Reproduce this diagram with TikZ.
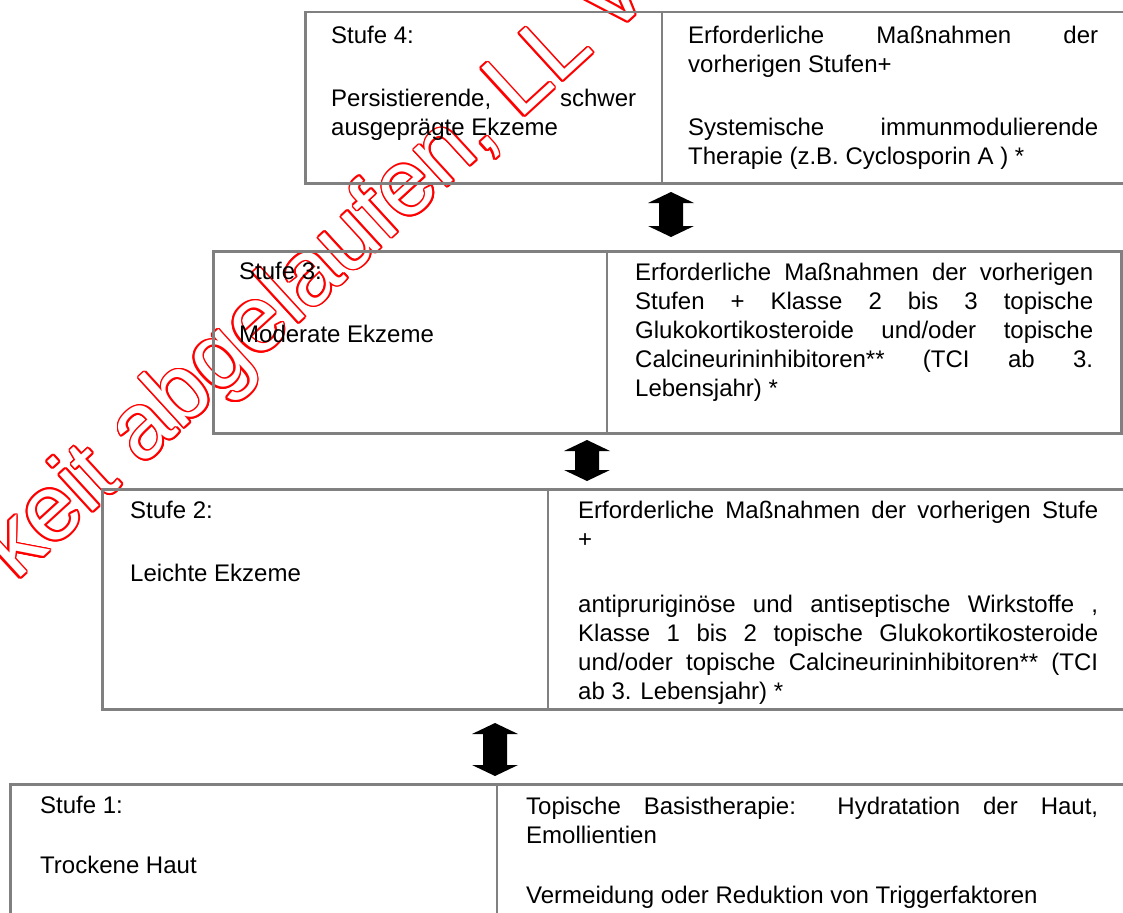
\documentclass[tikz,border=0pt]{standalone}
\usepackage{fontspec}
\setmainfont{Liberation Sans}
\usetikzlibrary{calc}
\definecolor{boxgray}{RGB}{128,128,128}
\definecolor{wmred}{RGB}{255,0,0}
\newcommand\jl[2]{\makebox[#1pt][s]{#2}}
\newcommand\darrow[2]{%
  \fill[black] (#1) -- ($(#1)+(23,11)$) -- ($(#1)+(12,11)$) -- ($(#2)+(12,-11)$) -- ($(#2)+(23,-11)$) -- (#2)
    -- ($(#2)+(-23,-11)$) -- ($(#2)+(-12,-11)$) -- ($(#1)+(-12,11)$) -- ($(#1)+(-23,11)$) -- cycle;}
\begin{document}
\begin{tikzpicture}[x=1pt,y=-1pt,
  box/.style={draw=boxgray, line width=2.5pt, inner sep=0pt, anchor=north west},
  divider/.style={draw=boxgray, line width=2pt},
  txt/.style={anchor=north west, inner sep=0pt, align=left, font=\fontsize{24}{29}\selectfont, text=black, yshift=20.3pt},
  wm/.style={anchor=base west, inner sep=0pt, rotate=42.5, font=\fontsize{93}{93}\selectfont}]
\useasboundingbox (0,0) rectangle (1123,912);
\clip (0,0) rectangle (1123,912);
\fill[white] (0,0) rectangle (1123,912);

% watermark (outlined red text)
\coordinate (wmo) at (16,582);
\foreach \a [count=\i] in {0,22.5,...,337.5}
  \node[wm, text=wmred] (wmr\i) at ($(wmo)+(\a:1.7)$) {keit abgelaufen, LL v};
\node[wm, text=white] (wm) at (wmo) {keit abgelaufen, LL v};

% boxes
\node[box, minimum width=822, minimum height=171] (s4) at (304,11) {};
\draw[divider] (662,11) -- (662,182);
\node[box, minimum width=908, minimum height=182] (s3) at (212,250) {};
\draw[divider] (607,250) -- (607,432);
\node[box, minimum width=1025, minimum height=220] (s2) at (101,488) {};
\draw[divider] (548,488) -- (548,708);
\node[box, minimum width=1117, minimum height=140] (s1) at (9,783) {};
\draw[divider] (497,783) -- (497,923);

% arrows
\coordinate (a1t) at (671,192); \coordinate (a1b) at (671,237);
\coordinate (a2t) at (587,440); \coordinate (a2b) at (587,481);
\coordinate (a3t) at (495,723); \coordinate (a3b) at (495,776);
\darrow{a1t}{a1b}
\darrow{a2t}{a2b}
\darrow{a3t}{a3b}

% Stufe 4
\node[txt] (t4l) at (331,43) {\strut Stufe 4:\\[34pt]\jl{305}{Persistierende, schwer}\\ausgeprägte Ekzeme};
\node[txt] (t4r) at (688,43) {\strut\jl{410}{Erforderliche Maßnahmen der}\\vorherigen Stufen+\\[34pt]\jl{410}{Systemische immunmodulierende}\\Therapie (z.B. Cyclosporin A ) *};

% Stufe 3
\node[txt] (t3l) at (239,279) {\strut Stufe 3:\\[34pt]Moderate Ekzeme};
\node[txt] (t3r) at (635,280) {\strut\jl{458}{Erforderliche Maßnahmen der vorherigen}\\\jl{458}{Stufen + Klasse 2 bis 3 topische}\\\jl{458}{Glukokortikosteroide und/oder topische}\\\jl{458}{Calcineurininhibitoren** (TCI ab 3.}\\Lebensjahr) *};

% Stufe 2
\node[txt] (t2l) at (130,518) {\strut Stufe 2:\\[34pt]Leichte Ekzeme};
\node[txt] (t2r) at (578,518) {\strut\jl{520}{Erforderliche Maßnahmen der vorherigen Stufe}\\+\\[36pt]\jl{520}{antipruriginöse und antiseptische Wirkstoffe ,}\\\jl{520}{Klasse 1 bis 2 topische Glukokortikosteroide}\\\jl{520}{und/oder topische Calcineurininhibitoren** (TCI}\\ab 3. Lebensjahr) *};

% Stufe 1
\node[txt] (t1l) at (40,813) {\strut Stufe 1:\\[31pt]Trockene Haut};
\node[txt] (t1r) at (526,814) {\strut\jl{572}{Topische Basistherapie: Hydratation der Haut,}\\Emollientien\\[31pt]Vermeidung oder Reduktion von Triggerfaktoren};
\end{tikzpicture}
\end{document}
